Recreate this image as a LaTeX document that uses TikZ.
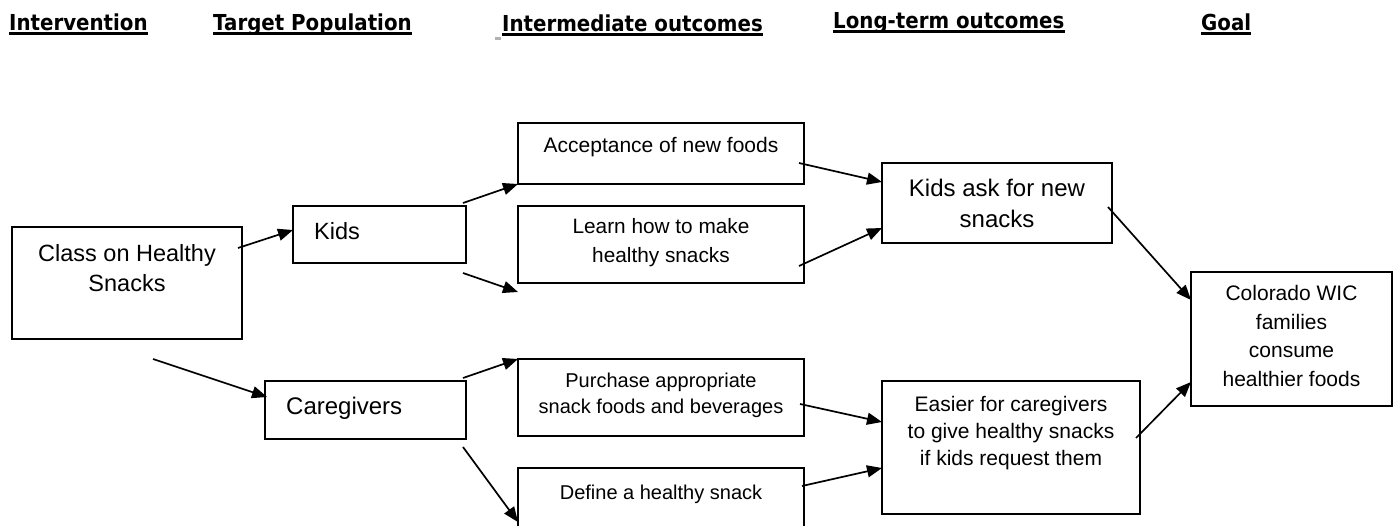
\documentclass[tikz,border=0pt]{standalone}
\usepackage{fontspec}
\setmainfont{Liberation Sans}
\newfontfamily\hdfont{DejaVu Sans}[FakeStretch=0.9]
\usetikzlibrary{arrows.meta,calc}
\newcommand\fsz[2]{\fontsize{#1}{#2}\selectfont}
\begin{document}
\begin{tikzpicture}[x=1pt,y=-1pt,
  box/.style={draw, line width=1.8pt, inner sep=0pt, outer sep=0pt, anchor=north west},
  txt/.style={inner sep=0pt, align=center},
  hd/.style={inner sep=0pt, font=\hdfont\bfseries\fsz{22}{26}, anchor=base west},
  ul/.style={line width=3pt},
  arr/.style={line width=1.7pt, -{Triangle[length=15pt,width=12pt]}}
]
\useasboundingbox (0,0) rectangle (1398,525);
\clip (0,0) rectangle (1398,525);

% headers
\node[hd] (h1) at (9,30) {Intervention};
\node[hd] (h2) at (213,30) {Target Population};
\node[hd] (h3) at (502,31) {Intermediate outcomes};
\node[hd] (h4) at (833,28) {Long-term outcomes};
\node[hd] (h5) at (1201,30) {Goal};
\foreach \h in {h1,h2,h3,h4,h5}{
  \draw[ul] ([shift={(0,3.5)}]\h.base west) -- ([shift={(0,3.5)}]\h.base east);
}
\fill[gray!60] ([shift={(-7,6)}]h3.base west) rectangle ([shift={(-1,8.5)}]h3.base west);

% boxes
\node[box, minimum width=230pt, minimum height=112pt] (cls) at (12,227) {};
\node[box, minimum width=173pt, minimum height=57pt] (kids) at (293,206) {};
\node[box, minimum width=201pt, minimum height=58pt] (care) at (265,381) {};
\node[box, minimum width=286pt, minimum height=61pt] (acc) at (518,123) {};
\node[box, minimum width=286pt, minimum height=77pt] (learn) at (518,206) {};
\node[box, minimum width=286pt, minimum height=77pt] (purch) at (518,359) {};
\node[box, minimum width=286pt, minimum height=70pt] (def) at (518,468) {};
\node[box, minimum width=230pt, minimum height=80pt] (ask) at (882,163) {};
\node[box, minimum width=258pt, minimum height=133pt] (easy) at (882,381) {};
\node[box, minimum width=201pt, minimum height=134pt] (col) at (1191,272) {};

% texts
\node[txt, font=\fsz{23.5}{30}] (cls-t) at (127,268) {Class on Healthy\\Snacks};
\node[txt, font=\fsz{23.5}{28}, anchor=base west] (kids-t) at (314,239.5) {Kids};
\node[txt, font=\fsz{24}{28}, anchor=base west] (care-t) at (286,414.6) {Caregivers};
\node[txt, font=\fsz{21}{26}, anchor=base] (acc-t) at (661,152.6) {Acceptance of new foods};
\node[txt, font=\fsz{20.8}{29}] (learn-t) at (661,242.5) {Learn how to make\\healthy snacks};
\node[txt, font=\fsz{20}{26}] (purch-t) at (661,395) {Purchase appropriate\\snack foods and beverages};
\node[txt, font=\fsz{20}{26}, anchor=base] (def-t) at (661,499.2) {Define a healthy snack};
\node[txt, font=\fsz{24}{31}] (ask-t) at (997,203.5) {Kids ask for new\\snacks};
\node[txt, font=\fsz{21}{27}] (easy-t) at (1011,433) {Easier for caregivers\\to give healthy snacks\\if kids request them};
\node[txt, font=\fsz{21}{28.7}] (col-t) at (1291.5,336) {Colorado WIC\\families\\consume\\healthier foods};

% connectors
\draw[arr] ([shift={(-4,-35)}]cls.east) -- ([shift={(0,-4.5)}]kids.west);
\draw[arr] ([shift={(26,20)}]cls.south) -- ([shift={(2,16)}]care.north west);
\draw[arr] ([shift={(-3,-3)}]kids.north east) -- (acc.south west);
\draw[arr] ([shift={(-3,10)}]kids.south east) -- ([shift={(0,9)}]learn.south west);
\draw[arr] ([shift={(-3,-3)}]care.north east) -- (purch.north west);
\draw[arr] ([shift={(-3,8)}]care.south east) -- ([shift={(0,54)}]def.north west);
\draw[arr] ([shift={(-5,9.5)}]acc.east) -- ([shift={(0,-21)}]ask.west);
\draw[arr] ([shift={(-5,21.5)}]learn.east) -- ([shift={(0,25)}]ask.west);
\draw[arr] ([shift={(-4,6.5)}]purch.east) -- ([shift={(0,-25.5)}]easy.west);
\draw[arr] ([shift={(-2,18)}]def.north east) -- ([shift={(0,20.5)}]easy.west);
\draw[arr] ([shift={(-4,4)}]ask.east) -- ([shift={(0,-39)}]col.west);
\draw[arr] ([shift={(-4,-9.5)}]easy.east) -- ([shift={(0,43)}]col.west);
\end{tikzpicture}
\end{document}
